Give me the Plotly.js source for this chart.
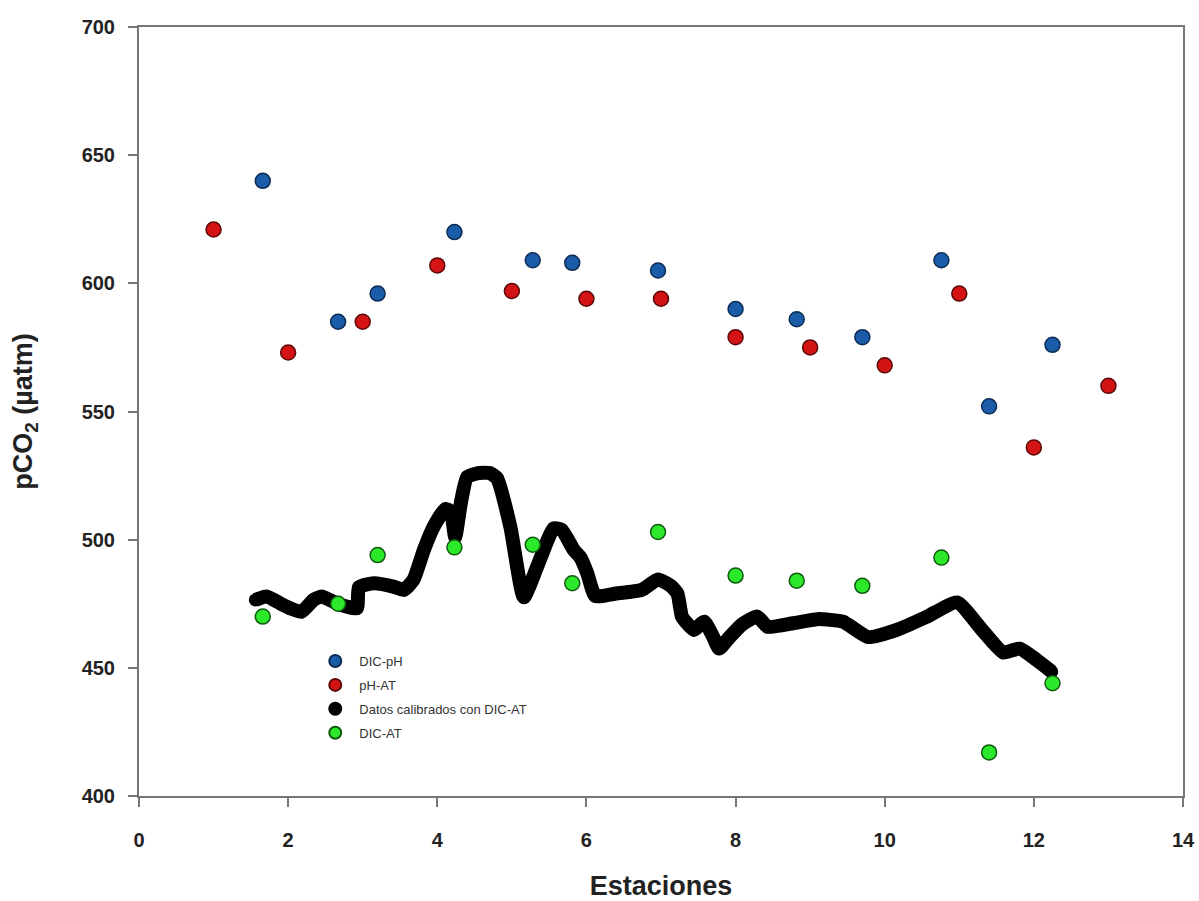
<!DOCTYPE html>
<html>
<head>
<meta charset="utf-8">
<script src="https://cdn.plot.ly/plotly-3.0.1.min.js"></script>
<style>html,body{margin:0;padding:0;background:#fff;}#chart{width:1199px;height:901px;}</style>
</head>
<body>
<div id="chart"></div>
<script>
// Station positions and pCO2 values (µatm)
const stationsDicPh = [1.66, 2.67, 3.2, 4.23, 5.28, 5.81, 6.96, 8.0, 8.82, 9.7, 10.76, 11.4, 12.25];
const dicPh = [640, 585, 596, 620, 609, 608, 605, 590, 586, 579, 609, 552, 576];

const stationsPhAt = [1, 2, 3, 4, 5, 6, 7, 8, 9, 10, 11, 12, 13];
const phAt = [621, 573, 585, 607, 597, 594, 594, 579, 575, 568, 596, 536, 560];

const stationsDicAt = [1.66, 2.67, 3.2, 4.23, 5.28, 5.81, 6.96, 8.0, 8.82, 9.7, 10.76, 11.4, 12.25];
const dicAt = [470, 475, 494, 497, 498, 483, 503, 486, 484, 482, 493, 417, 444];

// Calibrated continuous record (traced)
const calibX = [1.56, 1.71, 1.89, 2.03, 2.18, 2.34, 2.45, 2.65, 2.92, 2.95, 3.15, 3.41, 3.55, 3.68, 3.82, 3.95, 4.11, 4.18, 4.24, 4.32, 4.40, 4.55, 4.70, 4.80, 4.98, 5.16, 5.34, 5.56, 5.67, 5.83, 5.92, 6.01, 6.12, 6.40, 6.74, 6.96, 7.13, 7.22, 7.28, 7.33, 7.44, 7.58, 7.70, 7.78, 7.92, 8.09, 8.29, 8.43, 8.77, 9.10, 9.44, 9.78, 10.18, 10.57, 10.97, 11.30, 11.59, 11.81, 12.04, 12.24];
const calibY = [476.5, 477.8, 475.2, 473.2, 471.9, 476.5, 477.8, 475.2, 473.2, 481.5, 483, 481.7, 480.4, 484.3, 496, 505, 512, 511, 501, 515, 524.4, 526, 526, 524, 505, 477.5, 489.5, 504.4, 503.8, 496, 493, 487, 478, 479, 480.4, 484.5, 482, 479, 470, 468, 464.8, 468, 462, 457.5, 462, 467, 470, 466, 467.4, 469, 468, 462, 465, 470, 475.5, 465, 456, 457.5, 453, 448.5];

const seriesNames = ['DIC-pH', 'pH-AT', 'Datos calibrados con DIC-AT', 'DIC-AT'];
const xTitle = 'Estaciones';
const yTitle = 'pCO<sub>2</sub> (µatm)';

const mk = (fill, edge) => ({size: 15, color: fill, line: {color: edge, width: 1.5}});

const traces = [
  {x: calibX, y: calibY, mode: 'lines+markers', line: {color: '#000', width: 14, shape: 'spline', smoothing: 0.5},
   marker: {size: 13, color: '#000'}, showlegend: false, hoverinfo: 'skip'},
  {x: stationsDicPh, y: dicPh, mode: 'markers', name: seriesNames[0], legendgroup: 'a', marker: mk('#1b5ca8', '#0c2c55')},
  {x: stationsPhAt, y: phAt, mode: 'markers', name: seriesNames[1], legendgroup: 'b', marker: mk('#d41414', '#5c0808')},
  {x: [null], y: [null], mode: 'markers', name: seriesNames[2], legendgroup: 'c', marker: mk('#000', '#000')},
  {x: stationsDicAt, y: dicAt, mode: 'markers', name: seriesNames[3], legendgroup: 'd', marker: mk('#2be82b', '#0e5a0e')}
];

const axisCommon = {
  showline: true, mirror: true, linecolor: '#777', linewidth: 2,
  ticks: 'outside', ticklen: 9, tickwidth: 2, tickcolor: '#777',
  showgrid: false, zeroline: false,
  tickfont: {family: 'Liberation Sans, Arial, sans-serif', size: 20, color: '#222', weight: 'bold'}
};

const layout = {
  width: 1199, height: 901,
  margin: {l: 139, r: 16, t: 27, b: 105},
  paper_bgcolor: '#fff', plot_bgcolor: '#fff',
  font: {family: 'Liberation Sans, Arial, sans-serif', color: '#222'},
  xaxis: Object.assign({}, axisCommon, {
    range: [0, 14], dtick: 2, tick0: 0, ticklabelstandoff: 16,
    title: {text: '<b>' + xTitle + '</b>', font: {size: 27, color: '#222'}, standoff: 26}
  }),
  yaxis: Object.assign({}, axisCommon, {
    range: [400, 700], dtick: 50, tick0: 400, ticklabelstandoff: 9,
    title: {text: '<b>' + yTitle + '</b>', font: {size: 27, color: '#222'}, standoff: 41}
  }),
  showlegend: true,
  legend: {
    x: 0.165, y: 0.195, xanchor: 'left', yanchor: 'top',
    bgcolor: 'rgba(0,0,0,0)', borderwidth: 0,
    font: {size: 13, color: '#333', family: 'Liberation Sans, Arial, sans-serif'},
    itemsizing: 'constant', traceorder: 'grouped', tracegroupgap: 4, itemwidth: 38
  }
};

Plotly.newPlot('chart', traces, layout, {displayModeBar: false, staticPlot: true});
</script>
</body>
</html>
